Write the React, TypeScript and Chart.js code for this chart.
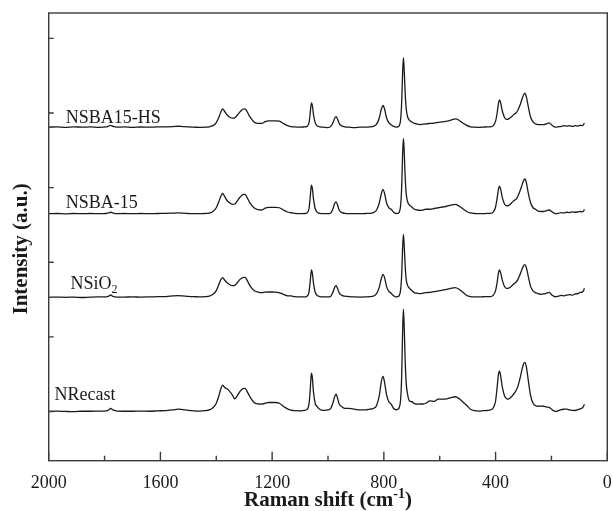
import React, { useEffect, useRef } from "react";
import { Chart, registerables } from "chart.js";

Chart.register(...registerables);

// ---------- data ----------
const ramanShift = [
  2000, 1970, 1940, 1910, 1880, 1850, 1820, 1795, 1785, 1778, 1770, 1755, 1730, 1700, 1670, 1640, 1610, 1580, 1555, 1537, 1520, 1500, 1480, 1460, 1440, 1425,
  1412, 1400, 1390, 1383, 1377, 1370, 1360, 1350, 1342, 1334, 1325, 1315, 1305, 1297, 1290, 1280, 1265, 1250, 1237, 1225, 1212, 1200, 1188, 1174, 1160, 1145, 1132,
  1120, 1100, 1085, 1075, 1068, 1064, 1061, 1059, 1056, 1052, 1046, 1040, 1030, 1015, 1000,
  990, 982, 976, 971, 966, 960, 950, 940,
  925, 905, 885, 865, 850, 838, 826, 816, 809, 803, 798, 790, 782, 774, 765,
  757, 750, 745, 740, 736, 733, 730, 727, 724, 720, 715, 708, 700,
  690, 680, 670, 660, 649, 635, 620, 605, 590, 575, 560, 544, 530, 515, 502, 490, 475, 460, 445, 430,
  418, 408, 400, 394, 390, 386, 382, 376, 368, 360, 355, 348, 340, 333, 327, 320, 312, 305, 300, 295, 290, 283, 275, 266, 257, 248, 238, 228, 218, 208, 198, 186,
  175, 165, 155, 145, 135, 125, 115, 105, 97, 90, 85, 82,
];

const nSBA15HS = [
  0, 0.5, -0.3, 0.4, 0, 0.3, -0.2, 0.3, 1.5, 2.5, 1, 0, 0.3, -0.3, 0.2, 0, 0.3, 0.5, 0.8, 1.2, 0.8, 0.3, 0, -0.3, 0, 0.5,
  2, 6, 14, 21, 24.5, 21, 16, 13, 12, 12.5, 16, 20.5, 24, 24.5, 21, 14, 7, 5, 5, 7.5, 8.5, 8.5, 8.5, 8, 5, 2, 0.8,
  0.3, 0, 0.3, 1, 6, 18, 29, 32.6, 29, 17, 6, 2, 0.5, 0, -0.5,
  1, 6, 12, 14, 11, 5, 1.5, 0.5,
  0, -0.5, 0, 0, 0.3, 1, 4, 13, 24, 29, 25, 12, 6, 3.2, 1,
  0, 0.5, 2, 10, 35, 72, 93, 75, 48, 25, 14, 9, 7,
  5, 4, 3.5, 4, 4.5, 5, 5.5, 6.5, 7, 8, 9.5, 11, 9, 5, 2, 0.5, 0, -0.3, 0, 0.5,
  0.5, 2, 8, 20, 31, 36.6, 33, 22, 13, 10.5, 10.7, 12.5, 15, 17.5, 19, 23, 30, 38, 43, 45.6, 41, 28, 14, 7, 4.4, 3.5, 3.5, 3.5, 4.5, 5.8, 2.5, 0,
  0.5, 1, 2, 1.5, 2, 1, 2, 1.5, 2.5, 2, 3.5, 5.4,
];

const nSBA15 = [
  0, 0.3, -0.3, 0.3, 0, 0.3, 0, 0.3, 1, 2, 1, 0, 0.3, 0, 0.3, 0, 0.3, 0.5, 0.8, 1, 0.8, 0.3, 0, 0, 0.3, 0.8,
  3, 8, 17, 24, 27.3, 23, 17, 14, 12.6, 13, 17, 22, 25.5, 26, 22, 15, 8, 5.5, 5, 7.5, 8.6, 8.6, 8.6, 8, 5, 2.3, 1.3,
  0.5, 0, 0.3, 1, 7, 21, 34, 38.4, 34, 20, 7, 2.5, 0.5, 0, 0,
  1, 7, 14, 16, 12, 5, 1.5, 0.5,
  0, 0, 0, 0.3, 0.5, 1.5, 5, 15, 27, 32.7, 28, 14, 8, 5.9, 2,
  0.3, 0.5, 2, 11, 38, 78, 101, 82, 52, 27, 16, 11.6, 9,
  6, 5, 4.5, 5, 6, 6, 7, 8, 9, 10, 11.5, 12.6, 10, 6, 2.7, 1, 0.3, 0, 0, 0.5,
  0.5, 2.5, 9, 22, 32, 37.1, 33, 22, 13, 10.7, 10.7, 12.5, 15.5, 18, 19.3, 23.5, 31, 39, 44, 46.5, 42, 28, 15, 8, 5.9, 3.5, 3, 3, 4, 5, 2.5, 0,
  0.5, 1.5, 1, 2, 1.5, 2.5, 2, 2.5, 3, 2.5, 3.5, 5.8,
];

const nSiO2 = [
  0, 0.3, 0, 0.3, -0.3, 0.3, 0.5, 0.5, 1.5, 3.1, 1.2, 0.3, 0.3, 0.5, 0.3, 0.5, 0.8, 1, 1.8, 2.2, 1.8, 1.2, 0.8, 0.5, 0.8, 1.5,
  4, 9, 18, 24, 26.3, 23, 19, 16.5, 15.5, 16, 19.5, 24, 26.5, 26.8, 23, 16, 9, 7, 6.3, 7, 7.1, 7.1, 7, 6, 4, 2, 1.8,
  1, 0.5, 0.5, 1.5, 7, 20, 32, 36.6, 32, 19, 7, 3, 1, 0.5, 0.5,
  1.5, 7, 13.5, 15.5, 12, 6, 2.5, 1.5,
  1, 0.5, 0.3, 0.5, 0.8, 1.5, 5, 14, 25, 30.8, 27, 14, 8, 5.4, 2,
  0.5, 1, 2.5, 10, 32, 65, 84.4, 68, 44, 24, 16, 12, 9,
  6, 5.4, 5, 5.5, 6.3, 6.5, 7.5, 8.5, 9.5, 10.5, 12, 13, 10.5, 6, 2.2, 1, 0.5, 0.5, 0.7, 1,
  1, 3, 9, 21, 32, 36.6, 33, 23, 14.5, 12, 12, 13.5, 16, 18.5, 20.1, 24, 31, 38, 42, 43.8, 40, 28, 15, 8.5, 6.3, 5, 4, 4.5, 5.5, 6.7, 3, 0.7,
  1.5, 2.5, 2, 3, 3.5, 3, 4.5, 5, 6.5, 7, 9, 12,
];

const nRecast = [
  0, 0.5, 0, -0.3, 0.3, 0.3, 0.5, 0.8, 2, 4, 2, 0.5, 0.3, 0.3, 0.5, 0.3, 0.8, 1.2, 2, 3.1, 2.5, 1.5, 0.8, 0.5, 1, 2,
  5, 11, 22, 31, 35.3, 32, 30, 26, 22, 17, 21, 27, 30.5, 30.8, 27, 20, 12, 10, 9.8, 11, 12, 12, 12, 11, 7, 3.5, 1.8,
  1, 0.8, 1.5, 2.5, 10, 27, 45, 51.4, 45, 26, 11, 7, 3, 1.5, 2,
  4, 12, 20, 23.2, 18, 10, 6.3, 4,
  4, 3, 2, 2, 3.1, 4, 8, 22, 40, 46.9, 40, 22, 13, 9.8, 4,
  2.3, 3, 5, 16, 50, 105, 137.2, 112, 72, 38, 23, 14, 13,
  10.5, 9.8, 10, 10, 11, 14.3, 13.5, 16.5, 16.5, 17, 18.5, 19.7, 17, 12, 7.6, 3, 1, 0.5, 1, 1.3,
  2, 5, 14, 34, 49, 54, 48, 33, 21, 17, 16.5, 18, 21, 24.5, 27.7, 34, 45, 57, 63.5, 65.7, 60, 42, 22, 11, 7.6, 7, 7.1, 7, 6, 5.4, 2.5, 0,
  1, 2.5, 3, 3.1, 2, 1.5, 1.3, 2.5, 3.5, 4.5, 7, 9.8,
];

const sampleNames = ["NRecast", "NSiO2", "NSBA-15", "NSBA15-HS"];
const stackOffsets = [0, 153, 265, 381];
const xMajorTicks = [2000, 1600, 1200, 800, 400, 0];
const xMinorTicks = [1800, 1400, 1000, 600, 200];
const yTicks = [0, 100, 200, 300, 400, 500];

// ---------- presentation ----------
const FONT = "'Liberation Serif', 'Times New Roman', Times, serif";
const INK = "#1a1a1a";
const labelPlacement = [
  { x: 1979, lift: 11.4 },
  { x: 1922, lift: 8 },
  { x: 1939, lift: 5.4 },
  { x: 1939, lift: 4 },
];

const framePlugin = {
  id: "frameAndLabels",
  afterDraw(chart: any) {
    const { ctx, chartArea: a, scales } = chart;
    const xs = scales.x;
    const ys = scales.y;
    ctx.save();
    // frame
    ctx.strokeStyle = "#3a3a3a";
    ctx.lineWidth = 1.4;
    ctx.strokeRect(a.left, a.top, a.right - a.left, a.bottom - a.top);
    // inward ticks
    ctx.beginPath();
    xMajorTicks.forEach((v) => {
      const px = xs.getPixelForValue(v);
      ctx.moveTo(px, a.bottom);
      ctx.lineTo(px, a.bottom - 9);
    });
    xMinorTicks.forEach((v) => {
      const px = xs.getPixelForValue(v);
      ctx.moveTo(px, a.bottom);
      ctx.lineTo(px, a.bottom - 5);
    });
    yTicks.forEach((v) => {
      const py = ys.getPixelForValue(v);
      ctx.moveTo(a.left, py);
      ctx.lineTo(a.left + 5, py);
    });
    ctx.stroke();

    // sample labels
    ctx.fillStyle = INK;
    ctx.textAlign = "left";
    ctx.textBaseline = "alphabetic";
    sampleNames.forEach((name, k) => {
      const p = labelPlacement[k];
      const lx = xs.getPixelForValue(p.x);
      const ly = ys.getPixelForValue(stackOffsets[k]) - p.lift;
      const m = name.match(/^(.*?)(\d)$/);
      if (name === "NSiO2" && m) {
        ctx.font = `18px ${FONT}`;
        ctx.fillText(m[1], lx, ly);
        const w = ctx.measureText(m[1]).width;
        ctx.font = `12px ${FONT}`;
        ctx.fillText(m[2], lx + w, ly + 3.5);
      } else {
        ctx.font = `18px ${FONT}`;
        ctx.fillText(name, lx, ly);
      }
    });

    // x-axis title with superscript
    const t1 = "Raman shift (cm";
    const sup = "-1";
    const t3 = ")";
    ctx.font = `bold 21px ${FONT}`;
    const w1 = ctx.measureText(t1).width;
    const w3 = ctx.measureText(t3).width;
    ctx.font = `bold 14px ${FONT}`;
    const w2 = ctx.measureText(sup).width;
    const cx = (a.left + a.right) / 2;
    const x0 = cx - (w1 + w2 + w3) / 2;
    const base = 506;
    ctx.font = `bold 21px ${FONT}`;
    ctx.fillText(t1, x0, base);
    ctx.fillText(t3, x0 + w1 + w2, base);
    ctx.font = `bold 14px ${FONT}`;
    ctx.fillText(sup, x0 + w1, base - 8);

    // y-axis title
    ctx.save();
    ctx.translate(27, (a.top + a.bottom) / 2 + 12);
    ctx.rotate(-Math.PI / 2);
    ctx.font = `bold 21px ${FONT}`;
    ctx.textAlign = "center";
    ctx.textBaseline = "alphabetic";
    ctx.fillText("Intensity (a.u.)", 0, 0);
    ctx.restore();

    ctx.restore();
  },
};

export default function App() {
  const ref = useRef<HTMLCanvasElement>(null);
  useEffect(() => {
    const canvas = ref.current;
    if (!canvas) return;
    const series = [nRecast, nSiO2, nSBA15, nSBA15HS];
    const datasets = series.map((vals, k) => ({
      label: sampleNames[k],
      data: ramanShift.map((x, i) => ({ x, y: vals[i] + stackOffsets[k] })),
      borderColor: INK,
      borderWidth: 1.3,
      pointRadius: 0,
      fill: false,
      cubicInterpolationMode: "monotone" as const,
    }));
    const chart = new Chart(canvas, {
      type: "line",
      data: { datasets },
      options: {
        responsive: false,
        animation: false,
        devicePixelRatio: 1,
        layout: { padding: { top: 13, right: 5.7, left: 0, bottom: 0 } },
        plugins: { legend: { display: false }, tooltip: { enabled: false } },
        elements: { line: { borderJoinStyle: "round" } },
        scales: {
          x: {
            type: "linear",
            reverse: true,
            min: 0,
            max: 2000,
            afterBuildTicks: (s: any) => {
              s.ticks = xMajorTicks.map((v) => ({ value: v }));
            },
            afterFit: (s: any) => {
              s.height = 50.3;
              s.paddingLeft = 0;
              s.paddingRight = 0;
            },
            grid: { display: false },
            border: { display: false },
            ticks: {
              font: { family: FONT, size: 18 },
              color: INK,
              padding: 3.5,
              maxRotation: 0,
              autoSkip: false,
              callback: (v: any) => String(v),
            },
          },
          y: {
            type: "linear",
            min: -66,
            max: 534,
            afterBuildTicks: (s: any) => {
              s.ticks = yTicks.map((v) => ({ value: v }));
            },
            afterFit: (s: any) => {
              s.width = 48.7;
            },
            grid: { display: false },
            border: { display: false },
            ticks: { display: false },
          },
        },
      },
      plugins: [framePlugin],
    } as any);
    return () => chart.destroy();
  }, []);
  return (
    <div style={{ position: "absolute", left: 0, top: 0, width: 613, height: 511, background: "#fff" }}>
      <canvas ref={ref} width={613} height={511} style={{ display: "block", width: 613, height: 511 }} />
    </div>
  );
}
